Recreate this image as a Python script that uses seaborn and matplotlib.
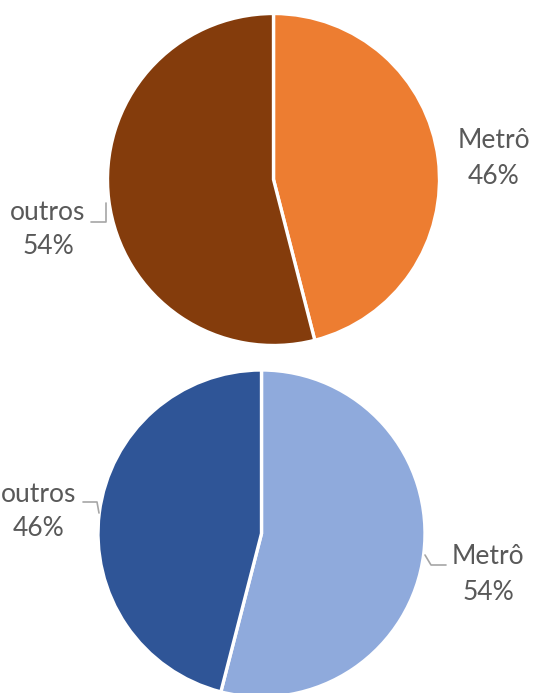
import matplotlib
matplotlib.use("Agg")
import matplotlib.pyplot as plt
import seaborn as sns
from matplotlib.lines import Line2D

sns.set_theme(style="white")
plt.rcParams['font.family'] = ['Lato', 'DejaVu Sans']

categories = ["Metrô", "outros"]
top_values = [46, 54]
bottom_values = [54, 46]
top_colors = ["#ED7D31", "#843C0C"]
bottom_colors = ["#8FAADC", "#2F5597"]

W, H = 536, 693
fig = plt.figure(figsize=(W / 100, H / 100), dpi=100)
fig.patch.set_facecolor("white")


def px(x, y):
    return x / W, 1 - y / H


txt_color = "#595959"
line_color = "#A6A6A6"
fs = 19

for (cx, cy, r), vals, cols in [((273.5, 179.5, 166), top_values, top_colors),
                                ((261.5, 533.5, 163.5), bottom_values, bottom_colors)]:
    ax = fig.add_axes([(cx - r) / W, (H - cy - r) / H, 2 * r / W, 2 * r / H])
    wedges, _ = ax.pie(vals, colors=cols, startangle=90, counterclock=False, radius=1,
                       wedgeprops=dict(edgecolor="white", linewidth=2.4))
    ax.set_xlim(-1, 1)
    ax.set_ylim(-1, 1)
    ax.set_aspect("equal")
    ax.axis("off")
    for w in wedges:
        w.set_clip_on(False)

labels = [
    (categories[1], top_values[1], 48, 213, 247),
    (categories[0], top_values[0], 494, 140, 176),
    (categories[1], bottom_values[1], 39, 495, 529),
    (categories[0], bottom_values[0], 488, 557, 592),
]
for name, v, x, y1, y2 in labels:
    fig.text(*px(x, y1), name, ha="center", va="center", fontsize=fs, color=txt_color)
    fig.text(*px(x, y2), f"{v}%", ha="center", va="center", fontsize=fs, color=txt_color)

leaders = [
    [(91, 222), (106, 222), (106, 203)],
    [(83, 502), (97, 502), (99, 513)],
    [(425, 555), (431, 565), (446, 565)],
]
for pts in leaders:
    xs = [px(*p)[0] for p in pts]
    ys = [px(*p)[1] for p in pts]
    fig.add_artist(Line2D(xs, ys, transform=fig.transFigure, color=line_color, lw=1.2))

fig.savefig("out.png", dpi=100, facecolor="white")
